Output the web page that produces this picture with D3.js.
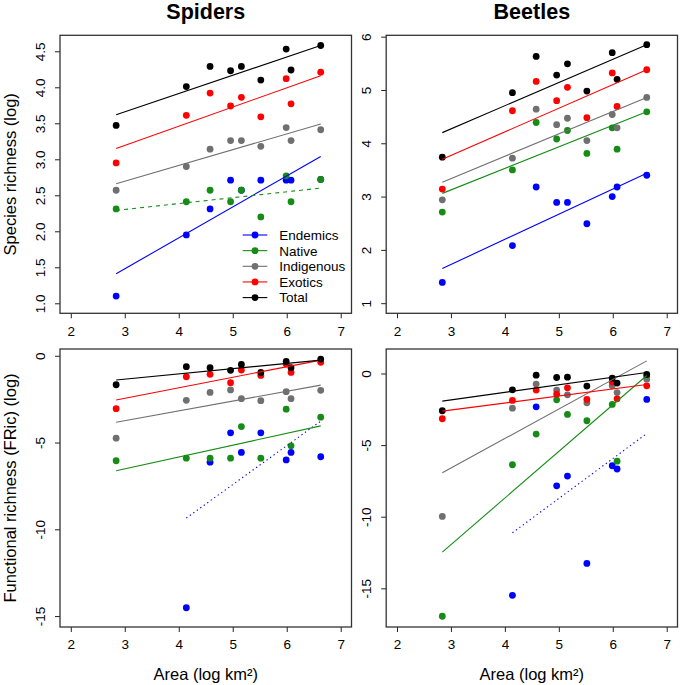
<!DOCTYPE html>
<html><head><meta charset="utf-8">
<script src="https://cdn.jsdelivr.net/npm/d3@7"></script>
<style>
body{margin:0;background:#fff;}
text{font-family:"Liberation Sans",Arial,Helvetica,sans-serif;fill:#000;}
</style>
</head><body>
<svg id="chart" width="680" height="685"></svg>
<script>
// ---------- DATA ----------
const area = [2.84, 4.14, 4.58, 4.96, 5.16, 5.52, 5.99, 6.08, 6.63];
const seriesNames = ["Endemics", "Native", "Indigenous", "Exotics", "Total"];
const xTicks = [2, 3, 4, 5, 6, 7];

// Spiders – species richness (log)
const spiderSR_endemics   = [1.10, 1.95, 2.31, 2.71, 2.57, 2.71, 2.71, 2.71, 2.72];
const spiderSR_native     = [2.31, 2.41, 2.57, 2.41, 2.57, 2.20, 2.77, 2.41, 2.72];
const spiderSR_indigenous = [2.57, 2.90, 3.14, 3.26, 3.26, 3.18, 3.44, 3.26, 3.41];
const spiderSR_exotics    = [2.95, 3.61, 3.92, 3.74, 3.86, 3.59, 4.12, 3.77, 4.21];
const spiderSR_total      = [3.47, 4.01, 4.29, 4.23, 4.29, 4.10, 4.53, 4.24, 4.58];
const spiderSR_fit        = [[1.41, 3.04], [2.29, 2.60], [2.66, 3.49], [3.15, 4.16], [3.62, 4.58]];
const spiderSR_yTicks     = [1.0, 1.5, 2.0, 2.5, 3.0, 3.5, 4.0, 4.5];

// Beetles – species richness (log)
const beetleSR_endemics   = [1.39, 2.08, 3.18, 2.89, 2.89, 2.49, 3.00, 3.18, 3.40];
const beetleSR_native     = [2.71, 3.50, 4.39, 4.08, 4.24, 3.81, 4.29, 3.89, 4.59];
const beetleSR_indigenous = [2.94, 3.72, 4.64, 4.35, 4.47, 4.05, 4.54, 4.29, 4.86];
const beetleSR_exotics    = [3.14, 4.61, 5.16, 4.80, 5.05, 4.48, 5.32, 4.69, 5.38];
const beetleSR_total      = [3.74, 4.95, 5.63, 5.28, 5.49, 4.98, 5.70, 5.20, 5.85];
const beetleSR_fit        = [[1.65, 3.44], [3.06, 4.59], [3.27, 4.86], [3.70, 5.38], [4.20, 5.85]];
const beetleSR_yTicks     = [1, 2, 3, 4, 5, 6];

// Spiders – functional richness FRic (log)
const spiderFR_endemics   = [null, -14.52, -6.13, -4.44, -5.57, -4.44, -6.00, -5.57, -5.82];
const spiderFR_native     = [-6.05, -5.90, -5.90, -5.90, -4.08, -5.90, -3.08, -5.19, -3.54];
const spiderFR_indigenous = [-4.75, -2.57, -2.11, -1.97, -2.47, -2.59, -2.07, -2.47, -1.99];
const spiderFR_exotics    = [-3.05, -1.21, -1.07, -1.55, -0.82, -1.13, -0.48, -0.96, -0.38];
const spiderFR_total      = [-1.67, -0.63, -0.69, -0.84, -0.50, -0.96, -0.33, -0.69, -0.19];
const spiderFR_fit        = [[-9.35, -3.77], [-6.63, -4.04], [-3.83, -1.69], [-2.55, -0.25], [-1.40, -0.25]];
const spiderFR_yTicks     = [0, -5, -10, -15];

// Beetles – functional richness FRic (log)
const beetleFR_endemics   = [null, -15.49, -2.33, -7.84, -7.16, -13.26, -6.44, -6.67, -1.81];
const beetleFR_native     = [-16.95, -6.37, -4.23, -1.84, -2.86, -3.30, -2.16, -6.12, -0.23];
const beetleFR_indigenous = [-9.98, -2.42, -0.74, -1.16, -1.49, -2.05, -0.86, -1.33, -0.40];
const beetleFR_exotics    = [-3.16, -1.88, -1.16, -1.44, -1.00, -1.81, -0.60, -1.77, -0.86];
const beetleFR_total      = [-2.60, -1.14, -0.12, -0.28, -0.26, -0.88, -0.33, -0.67, -0.07];
const beetleFR_fit        = [[-11.12, -4.19], [-12.47, -0.14], [-6.93, 0.88], [-2.63, -0.77], [-1.93, 0.07]];
const beetleFR_yTicks     = [0, -5, -10, -15];

// ---------- STYLE / LAYOUT ----------
const colors = ["#0000ff", "#168c16", "#707070", "#ff0000", "#000000"];
const fontFam = '"Liberation Sans",Arial,Helvetica,sans-serif';
const colX = [[60, 351.5], [386.2, 677.5]];
const rowY = [[35.3, 313.3], [349, 627]];

const panels = [
  {col: 0, row: 0, series: [spiderSR_endemics, spiderSR_native, spiderSR_indigenous, spiderSR_exotics, spiderSR_total],
   fit: spiderSR_fit, yDomain: [0.861, 4.722], yTicks: spiderSR_yTicks, fmt: d3.format(".1f"),
   dash: [null, "4,4", null, null, null], legend: true},
  {col: 1, row: 0, series: [beetleSR_endemics, beetleSR_native, beetleSR_indigenous, beetleSR_exotics, beetleSR_total],
   fit: beetleSR_fit, yDomain: [0.81, 6.026], yTicks: beetleSR_yTicks, fmt: d3.format("d"),
   dash: [null, null, null, null, null]},
  {col: 0, row: 1, series: [spiderFR_endemics, spiderFR_native, spiderFR_indigenous, spiderFR_exotics, spiderFR_total],
   fit: spiderFR_fit, yDomain: [-15.63, 0.39], yTicks: spiderFR_yTicks, fmt: d => String(d),
   dash: ["1.3,3", null, null, null, null]},
  {col: 1, row: 1, series: [beetleFR_endemics, beetleFR_native, beetleFR_indigenous, beetleFR_exotics, beetleFR_total],
   fit: beetleFR_fit, yDomain: [-17.7, 1.71], yTicks: beetleFR_yTicks, fmt: d => String(d),
   dash: ["1.3,3", null, null, null, null]}
];

const svg = d3.select("#chart");

panels.forEach(p => {
  const x = d3.scaleLinear().domain([1.8, 7.2]).range(colX[p.col]);
  const y = d3.scaleLinear().domain(p.yDomain).range([rowY[p.row][1], rowY[p.row][0]]);
  const g = svg.append("g");

  // x axis
  const xa = g.append("g").attr("transform", `translate(0,${rowY[p.row][1]})`)
    .call(d3.axisBottom(x).tickValues(xTicks).tickSize(5).tickSizeOuter(0).tickPadding(5).tickFormat(d3.format("d")));
  xa.select(".domain").remove();
  xa.selectAll("line").attr("stroke", "#222").attr("stroke-width", 1);
  xa.selectAll("text").attr("font-size", 13.5).attr("font-family", fontFam).attr("dy", "0.5em").attr("fill", "#000")
    .attr("y", 15.5);

  // y axis with rotated labels
  const ya = g.append("g").attr("transform", `translate(${colX[p.col][0]},0)`)
    .call(d3.axisLeft(y).tickValues(p.yTicks).tickSize(5).tickSizeOuter(0).tickFormat(p.fmt));
  ya.select(".domain").remove();
  ya.selectAll("line").attr("stroke", "#222").attr("stroke-width", 1);
  ya.selectAll("text").attr("font-size", 13.5).attr("font-family", fontFam).attr("fill", "#000")
    .attr("x", null).attr("dy", null)
    .attr("text-anchor", "middle")
    .attr("transform", "translate(-15,0) rotate(-90)");

  // box
  g.append("rect")
    .attr("x", colX[p.col][0]).attr("y", rowY[p.row][0])
    .attr("width", colX[p.col][1] - colX[p.col][0]).attr("height", rowY[p.row][1] - rowY[p.row][0])
    .attr("fill", "none").attr("stroke", "#333").attr("stroke-width", 1.3);

  // points
  p.series.forEach((vals, si) => {
    g.append("g").selectAll("circle")
      .data(vals.map((v, i) => ({x: area[i], y: v})).filter(d => d.y !== null))
      .join("circle")
      .attr("cx", d => x(d.x)).attr("cy", d => y(d.y)).attr("r", 3.4)
      .attr("fill", colors[si]);
  });

  // fitted lines
  p.fit.forEach((f, si) => {
    const vals = p.series[si];
    const first = vals.findIndex(v => v !== null);
    const x0 = area[first], x1 = area[area.length - 1];
    g.append("line")
      .attr("x1", x(x0)).attr("y1", y(f[0]))
      .attr("x2", x(x1)).attr("y2", y(f[1]))
      .attr("stroke", colors[si]).attr("stroke-width", 1.1)
      .attr("stroke-dasharray", p.dash[si]);
  });

  if (p.legend) {
    const lg = g.append("g");
    seriesNames.forEach((n, i) => {
      const yy = 235 + i * 15.65;
      lg.append("line").attr("x1", 242.7).attr("x2", 267.3).attr("y1", yy).attr("y2", yy)
        .attr("stroke", colors[i]).attr("stroke-width", 1.1);
      lg.append("circle").attr("cx", 255).attr("cy", yy).attr("r", 3.4).attr("fill", colors[i]);
      lg.append("text").attr("x", 279.3).attr("y", yy).attr("dy", "0.36em")
        .attr("font-size", 13.5).attr("font-family", fontFam).text(n);
    });
  }
});

// titles
const titles = ["Spiders", "Beetles"];
titles.forEach((t, i) => {
  svg.append("text").attr("x", (colX[i][0] + colX[i][1]) / 2).attr("y", 18.8)
    .attr("text-anchor", "middle").attr("font-size", 21.5).attr("font-weight", "bold")
    .attr("font-family", fontFam).text(t);
});
// x-axis titles
[0, 1].forEach(i => {
  svg.append("text").attr("x", (colX[i][0] + colX[i][1]) / 2).attr("y", 680)
    .attr("text-anchor", "middle").attr("font-size", 16.5).attr("font-family", fontFam)
    .text("Area (log km²)");
});
// y-axis titles
const yTitles = ["Species richness (log)", "Functional richness (FRic) (log)"];
yTitles.forEach((t, r) => {
  const cy = (rowY[r][0] + rowY[r][1]) / 2;
  svg.append("text").attr("transform", `translate(15.5,${cy}) rotate(-90)`)
    .attr("text-anchor", "middle").attr("font-size", 16.5).attr("font-family", fontFam).text(t);
});
</script>
</body></html>
